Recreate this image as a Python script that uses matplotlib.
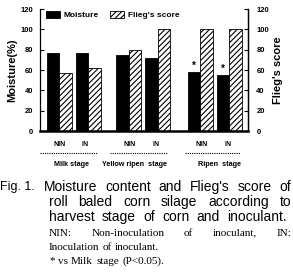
import numpy as np
import matplotlib.pyplot as plt

# data
groups = ['NIN', 'IN', 'NIN', 'IN', 'NIN', 'IN']
stages = ['Milk stage', 'Yellow ripen  stage', 'Ripen  stage']
moisture = [76.5, 76.5, 74.5, 71.5, 58.5, 55.5]
flieg = [57.5, 62, 80, 100, 100, 100]
signif = [False, False, False, False, True, True]
yticks = [0, 20, 40, 60, 80, 100, 120]

plt.rcParams['font.family'] = ['Liberation Sans', 'DejaVu Sans']
plt.rcParams['hatch.linewidth'] = 0.8

fig = plt.figure(figsize=(2.93, 2.77), dpi=100)
ax = fig.add_axes([40/293, 1 - 131/277, 208/293, 122/277])

x = np.array([0, 1, 2.38, 3.38, 4.86, 5.86])
w = 0.43
ax.bar(x - w/2, moisture, w, color='black', edgecolor='black', lw=0.6, label='Moisture')
ax.bar(x + w/2, flieg, w, color='white', edgecolor='black', lw=0.6, hatch='//////',
       label="Flieg's score")
for xi, m, s in zip(x, moisture, signif):
    if s:
        ax.text(xi - w/2, m + 0.5, '*', ha='center', va='bottom', fontsize=7, fontweight='bold')

ax.set_xlim(-0.672, 6.5)
ax.set_ylim(0, 120)
ax.set_yticks(yticks)
ax.set_xticks([])
ax.spines['top'].set_visible(False)
ax.spines['bottom'].set_linewidth(1.8)
ax.spines['left'].set_linewidth(0.9)
ax.spines['right'].set_linewidth(0.9)
ax.tick_params(axis='y', direction='in', length=3, width=0.8, labelsize=5.5, pad=5)
for t in ax.get_yticklabels():
    t.set_fontweight('bold')
ax.set_ylabel('Moisture(%)', fontsize=8, fontweight='bold', labelpad=2)

ax2 = ax.twinx()
ax2.set_ylim(0, 120)
ax2.set_yticks(yticks)
ax2.spines['top'].set_visible(False)
ax2.spines['bottom'].set_visible(False)
ax2.spines['left'].set_visible(False)
ax2.spines['right'].set_linewidth(0.9)
ax2.tick_params(axis='y', direction='in', length=3, width=0.8, labelsize=5.5, pad=6)
for t in ax2.get_yticklabels():
    t.set_fontweight('bold')
ax2.set_ylabel("Flieg's score", fontsize=8, fontweight='bold', labelpad=3)

ax.legend(loc='upper left', bbox_to_anchor=(0.0, 1.035), ncol=2, frameon=False,
          prop={'size': 6, 'weight': 'bold'}, handlelength=1.7, handleheight=1.0,
          columnspacing=1.4, handletextpad=0.4, borderaxespad=0.3)

# labels below the axis
def fx(px):
    return px / 293

def fy(py):
    return 1 - py / 277

px_lab = [59.5, 85, 130, 156, 202, 228]
for p, g in zip(px_lab, groups):
    fig.text(fx(p), fy(145), g, ha='center', va='center', fontsize=5, fontweight='bold')
for (a, b) in [(40, 97), (110, 167), (185, 240)]:
    fig.add_artist(plt.Line2D([fx(a), fx(b)], [fy(153), fy(153)], color='black', lw=0.8,
                              ls=(0, (1, 1))))
for p, s in zip([71, 135, 219], stages):
    fig.text(fx(p), fy(164), s, ha='center', va='center', fontsize=5.2, fontweight='bold')

# caption, justified word by word
fig.canvas.draw()
renderer = fig.canvas.get_renderer()

def justify(words, x0, x1, y, size, family, last=False):
    objs = [fig.text(0, fy(y), wd, fontsize=size, family=family, va='center') for wd in words]
    widths = [o.get_window_extent(renderer).width for o in objs]
    if last or len(words) == 1:
        gap = size * 0.4
    else:
        gap = (x1 - x0 - sum(widths)) / (len(words) - 1)
    pos = x0
    for o, wd in zip(objs, widths):
        o.set_x(fx(pos))
        pos += wd + gap

sans = ['Liberation Sans']
serif = ['Liberation Serif']
fig.text(fx(0.5), fy(187), 'Fig. 1.', fontsize=9, family=sans, va='center')
justify('Moisture content and Flieg\'s score of'.split(), 44, 291, 187, 10, sans)
justify('roll baled corn silage according to'.split(), 49, 291, 202, 10, sans)
justify('harvest stage of corn and inoculant.'.split(), 49, 287, 217, 10, sans)
justify('NIN: Non-inoculation of inoculant, IN:'.split(), 49, 291, 233, 8, serif)
justify('Inoculation of inoculant.'.split(), 49, 291, 247, 8, serif, last=True)
justify('* vs Milk stage (P<0.05).'.split(), 49, 291, 261, 8, serif, last=True)

fig.savefig('out.png', dpi=100)
